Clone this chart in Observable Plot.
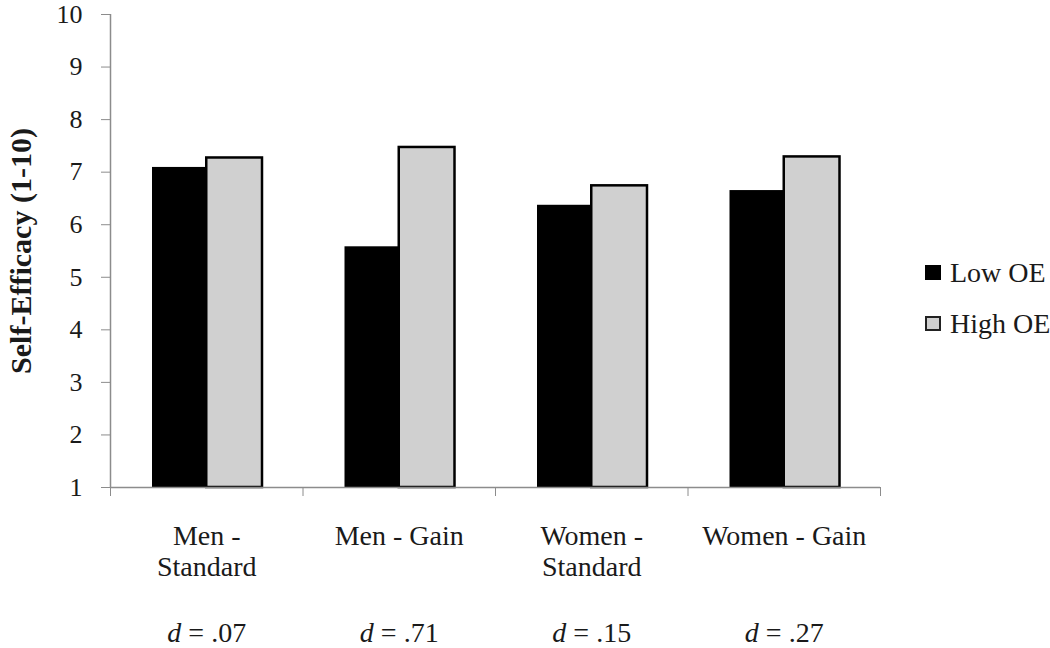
<!DOCTYPE html>
<html>
<head>
<meta charset="utf-8">
<script src="https://cdn.jsdelivr.net/npm/d3@7"></script>
<script src="https://cdn.jsdelivr.net/npm/@observablehq/plot@0.6"></script>
<style>
  html, body { margin: 0; padding: 0; background: #fff; }
  #wrap { position: relative; width: 1050px; height: 648px; overflow: hidden; }
  #legend { position: absolute; left: 925px; top: 247px; font-family: 'Liberation Serif', 'DejaVu Serif', serif; font-size: 28px; color: #1a1a1a; white-space: nowrap; }
  .item { display: flex; align-items: center; height: 51px; }
  .sw { width: 16px; height: 15px; box-sizing: border-box; margin-right: 9px; flex: none; }
  svg text { font-family: 'Liberation Serif', 'DejaVu Serif', serif; }
</style>
</head>
<body>
<div id="wrap"></div>
<script>
// ---- data ----
const categories = ["Men - Standard", "Men - Gain", "Women - Standard", "Women - Gain"];
const categoryLabels = ["Men -\nStandard", "Men - Gain", "Women -\nStandard", "Women - Gain"];
const series = ["Low OE", "High OE"];
const lowOE = [7.09, 5.58, 6.37, 6.65];
const highOE = [7.27, 7.47, 6.74, 7.29];
const effectSizes = ["d = .07", "d = .71", "d = .15", "d = .27"];
const yTicks = [1, 2, 3, 4, 5, 6, 7, 8, 9, 10];
const yLabel = "Self-Efficacy (1-10)";

// ---- table ----
const lowRows = categories.map((c, i) => ({cat: c, i, series: series[0], value: lowOE[i]}));
const highRows = categories.map((c, i) => ({cat: c, i, series: series[1], value: highOE[i]}));

const axisGray = "#8c8c8c";
const textColor = "#1a1a1a";
const serifFont = "'Liberation Serif', 'DejaVu Serif', serif";

const chart = Plot.plot({
  width: 1050,
  height: 648,
  marginLeft: 110,
  marginRight: 170,
  marginTop: 14,
  marginBottom: 161,
  style: {fontFamily: serifFont, background: "white", color: textColor},
  x: {type: "linear", domain: [0, categories.length]},
  y: {domain: [1, 10]},
  marks: [
    Plot.rect(lowRows, {x1: d => d.i, x2: d => d.i + 1, y1: 1, y2: "value", fill: "black", insetLeft: 42, insetRight: 96.25}),
    Plot.rect(highRows, {x1: d => d.i, x2: d => d.i + 1, y1: 1, y2: "value", fill: "#d0d0d0", stroke: "black", strokeWidth: 2.5, insetLeft: 96.25, insetRight: 40.5}),
    Plot.ruleX([0], {stroke: axisGray, strokeWidth: 1.5}),
    Plot.ruleY([1], {stroke: axisGray, strokeWidth: 1.5}),
    Plot.axisY({ticks: yTicks, tickSize: 9, tickPadding: 19, fontSize: 26, stroke: axisGray, fill: textColor, label: null}),
    Plot.axisY({ticks: [], label: yLabel, labelAnchor: "center", labelArrow: "none", labelOffset: 101, fontSize: 30, fontWeight: "bold", fill: textColor, dy: 12}),
    Plot.axisX({ticks: d3.range(categories.length + 1), tickSize: 9, tickFormat: () => "", stroke: axisGray, label: null}),
    Plot.axisX({ticks: categories.map((c, i) => i + 0.5), tickSize: 0, tickPadding: 36, tickFormat: v => categoryLabels[Math.floor(v)], fontSize: 28, lineHeight: 1.1, fill: textColor, label: null}),
    Plot.text(effectSizes, {x: (d, i) => i + 0.5, frameAnchor: "bottom", dy: 146, fontSize: 28, lineAnchor: "middle", fill: textColor})
  ]
});

// italicize the "d" in effect-size labels
d3.select(chart).selectAll("text").each(function() {
  const t = this.textContent;
  if (/^d = /.test(t) && this.children.length === 0) {
    const el = d3.select(this);
    el.text(null);
    el.append("tspan").attr("font-style", "italic").text("d");
    el.append("tspan").text(t.slice(1));
  }
});

const wrap = document.getElementById("wrap");
wrap.appendChild(chart);

// legend
const legend = document.createElement("div");
legend.id = "legend";
legend.innerHTML = series.map((s, k) =>
  `<div class="item"><div class="sw" style="${k === 0 ? "background:#000;" : "background:#d0d0d0;border:2px solid #222;"}"></div><span>${s}</span></div>`
).join("");
wrap.appendChild(legend);
</script>
</body>
</html>
